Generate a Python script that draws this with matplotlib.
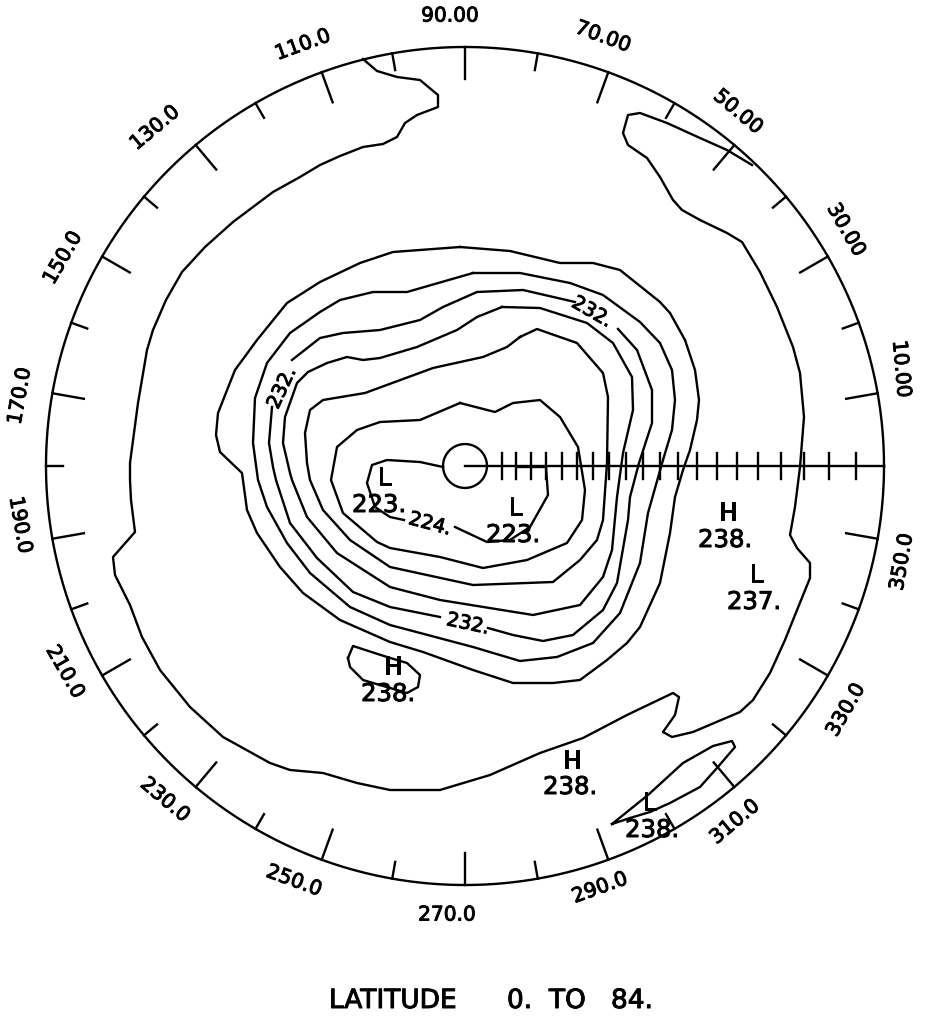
#! /usr/bin/env python
import numpy as np
import matplotlib
matplotlib.use('Agg')
import matplotlib.pyplot as plt
import matplotlib.patheffects as pe

# plotting plane is the scanned page, x right / y down, pole at (465,466)
CX, CY = 465.0, 466.0
R_EQ = 419.0

lon_ticks = np.arange(0, 360, 10)
lat_ticks = np.arange(80, 0, -4)

lon_labels = ['10.00', '30.00', '50.00', '70.00', '90.00', '110.0', '130.0', '150.0', '170.0',
              '190.0', '210.0', '230.0', '250.0', '270.0', '290.0', '310.0', '330.0', '350.0']
lon_label_x = [901, 846, 738, 603, 450, 303, 155, 63, 20, 20, 65, 165, 294, 447, 600, 735, 846, 902]
lon_label_y = [369, 230, 112, 37, 16, 45, 128, 258, 396, 525, 672, 800, 881, 915, 888, 822, 710, 562]
lon_label_rot = [-85, -60, -40, -20, 0, 20, 40, 60, 80, -80, -60, -40, -20, 0, 20, 40, 60, 80]

# outermost contour, runs from the rim near 40E round to the rim near 115E
outer_x = [752, 727, 700, 667, 640, 628, 623, 628, 647, 660, 673, 682, 700, 727, 742, 760, 777, 793, 800, 804, 800,
           795, 790, 797, 810, 810, 793, 785, 770, 753, 740, 693, 672, 663, 675, 679, 673, 627, 583, 540, 490, 440,
           390, 357, 323, 290, 270, 223, 190, 160, 142, 130, 115, 113, 135, 131, 130, 130, 138, 147, 153, 166, 182,
           205, 233, 273, 300, 320, 340, 363, 383, 397, 405, 417, 438, 438, 420, 397, 377, 363]
outer_y = [165, 150, 138, 123, 113, 115, 133, 145, 158, 177, 200, 210, 220, 233, 242, 272, 307, 347, 373, 417, 467,
           507, 535, 548, 563, 578, 620, 640, 673, 700, 712, 732, 737, 732, 715, 697, 693, 715, 738, 753, 775, 790,
           790, 783, 773, 770, 763, 737, 707, 670, 637, 605, 575, 557, 532, 500, 480, 463, 403, 350, 330, 300, 272,
           247, 222, 192, 177, 165, 156, 147, 144, 137, 123, 115, 107, 95, 80, 77, 71, 59]

line_a_x = [460, 510, 560, 593, 620, 660, 670, 685, 695, 699, 697, 690, 683, 675, 670, 660, 640, 627, 607, 580, 553,
            513, 473, 423, 390, 340, 303, 280, 257, 247, 242, 220, 216, 218, 235, 257, 287, 320, 360, 393, 460]
line_a_y = [247, 251, 263, 263, 270, 302, 313, 340, 370, 400, 420, 450, 470, 497, 533, 583, 627, 643, 660, 680, 683,
            683, 670, 652, 642, 620, 593, 567, 533, 510, 473, 452, 435, 413, 370, 340, 303, 282, 263, 252, 247]
line_b_x = [473, 520, 570, 603, 640, 660, 672, 675, 672, 663, 648, 640, 620, 593, 557, 520, 473, 390, 350, 310, 287,
            267, 258, 253, 255, 267, 290, 320, 340, 373, 407, 473]
line_b_y = [273, 273, 283, 295, 322, 343, 370, 400, 430, 460, 513, 563, 613, 643, 657, 661, 647, 625, 607, 573, 543,
            507, 480, 443, 398, 363, 333, 312, 300, 292, 292, 273]
# 232 line is broken three times for its labels
line_c1_x = [292, 320, 343, 380, 420, 443, 477, 523, 575]
line_c1_y = [360, 338, 333, 330, 320, 307, 292, 290, 302]
line_c2_x = [618, 637, 652, 652, 639, 630, 628, 617, 603, 573, 543, 513, 488]
line_c2_y = [329, 350, 390, 423, 463, 497, 520, 583, 610, 635, 641, 635, 628]
line_c3_x = [440, 390, 353, 317, 290, 276, 273, 269, 272]
line_c3_y = [617, 607, 592, 558, 523, 480, 467, 443, 407]
line_d_x = [502, 540, 587, 613, 632, 633, 623, 617, 612, 603, 580, 533, 440, 390, 337, 307, 292, 290, 283, 285, 297,
            308, 327, 347, 363, 380, 417, 457, 477, 502]
line_d_y = [307, 308, 323, 343, 377, 410, 453, 497, 550, 577, 605, 615, 600, 587, 553, 517, 480, 473, 443, 417, 383,
            372, 363, 357, 360, 358, 347, 330, 317, 307]
line_e_x = [520, 537, 577, 603, 608, 607, 603, 597, 580, 553, 473, 390, 350, 323, 310, 307, 305, 310, 323, 365, 433,
            483, 507, 520]
line_e_y = [337, 329, 343, 373, 397, 463, 520, 540, 560, 582, 585, 567, 540, 510, 480, 463, 433, 410, 400, 393, 368,
            357, 347, 337]
line_f_x = [460, 495, 513, 540, 560, 578, 585, 582, 567, 527, 483, 440, 390, 377, 343, 331, 337, 357, 380, 420, 460]
line_f_y = [403, 412, 403, 400, 417, 447, 490, 520, 543, 560, 568, 557, 548, 542, 513, 480, 447, 430, 422, 420, 403]

# 224 line, from the pole circle round the low, back along the axis
low_left_x = [443, 420, 387, 372, 367, 375, 390, 404]
low_left_y = [467, 462, 460, 465, 483, 507, 517, 520]
low_right_x = [455, 487, 510, 530, 548, 546, 532, 518]
low_right_y = [527, 542, 540, 527, 495, 467, 467, 467]

blob_h_x = [348, 353, 387, 407, 420, 418, 407, 397, 373, 363, 350, 348]
blob_h_y = [658, 646, 657, 663, 675, 687, 693, 690, 683, 680, 667, 658]
blob_s_x = [612, 648, 683, 713, 732, 735, 717, 700, 670, 650, 630, 612]
blob_s_y = [824, 795, 763, 746, 741, 747, 768, 787, 803, 812, 818, 824]

contours = [(outer_x, outer_y), (line_a_x, line_a_y), (line_b_x, line_b_y), (line_c1_x, line_c1_y),
            (line_c2_x, line_c2_y), (line_c3_x, line_c3_y), (line_d_x, line_d_y), (line_e_x, line_e_y),
            (line_f_x, line_f_y), (low_left_x, low_left_y), (low_right_x, low_right_y),
            (blob_h_x, blob_h_y), (blob_s_x, blob_s_y)]

extrema_text = ['L', '223.', 'L', '223.', 'H', '238.', 'L', '237.', 'H', '238.', 'H', '238.', 'L', '238.']
extrema_x = [384, 379, 515, 513, 728, 725, 756, 754, 393, 388, 572, 570, 649, 652]
extrema_y = [478, 505, 508, 535, 513, 540, 575, 602, 667, 694, 761, 787, 803, 830]

contour_text = ['232.', '232.', '232.', '224.']
contour_text_x = [592, 282, 468, 430]
contour_text_y = [312, 388, 624, 524]
contour_text_rot = [-30, 65, -12, -15]


def stereo_radius(lat):
  return R_EQ*np.tan(np.radians(90.0-lat)/2.0)


if __name__=='__main__':
  fig = plt.figure(figsize=(9.25,10.19), dpi=100)
  ax = fig.add_axes([0,0,1,1])
  ax.set_xlim(0,925)
  ax.set_ylim(1019,0)
  ax.axis('off')
  lw = 1.7
  heavy = [pe.withStroke(linewidth=0.7, foreground='k')]

  theta = np.radians(np.arange(0,361,1))
  ax.plot(CX+R_EQ*np.cos(theta), CY-R_EQ*np.sin(theta), 'k', lw=lw)
  r_pole = stereo_radius(84.0)
  ax.plot(CX+r_pole*np.cos(theta), CY-r_pole*np.sin(theta), 'k', lw=lw)

  # rim ticks, the labelled longitudes get the long ones
  for lon in lon_ticks[1:]:
    tlen = 32 if lon%20==10 else 17
    a = np.radians(lon)
    ax.plot([CX+R_EQ*np.cos(a), CX+(R_EQ-tlen)*np.cos(a)], [CY-R_EQ*np.sin(a), CY-(R_EQ-tlen)*np.sin(a)], 'k', lw=lw)

  # latitude scale along 0 deg
  ax.plot([CX,CX+R_EQ], [CY,CY], 'k', lw=lw)
  for lat in lat_ticks:
    x = CX+stereo_radius(lat)
    ax.plot([x,x], [CY-13,CY+13], 'k', lw=lw)

  for xs, ys in contours:
    ax.plot(xs, ys, 'k', lw=lw, solid_joinstyle='round')

  for s, x, y, rot in zip(lon_labels, lon_label_x, lon_label_y, lon_label_rot):
    ax.text(x, y, s, fontsize=14.5, rotation=rot, ha='center', va='center', rotation_mode='anchor', path_effects=heavy)
  for s, x, y in zip(extrema_text, extrema_x, extrema_y):
    ax.text(x, y, s, fontsize=17.5, ha='center', va='center', path_effects=heavy)
  for s, x, y, rot in zip(contour_text, contour_text_x, contour_text_y, contour_text_rot):
    ax.text(x, y, s, fontsize=14, rotation=rot, ha='center', va='center', rotation_mode='anchor', path_effects=heavy)
  ax.text(329, 1001, 'LATITUDE      0.  TO   84.', fontsize=19, ha='left', va='center', path_effects=heavy)

  fig.savefig('out.png', dpi=100)
